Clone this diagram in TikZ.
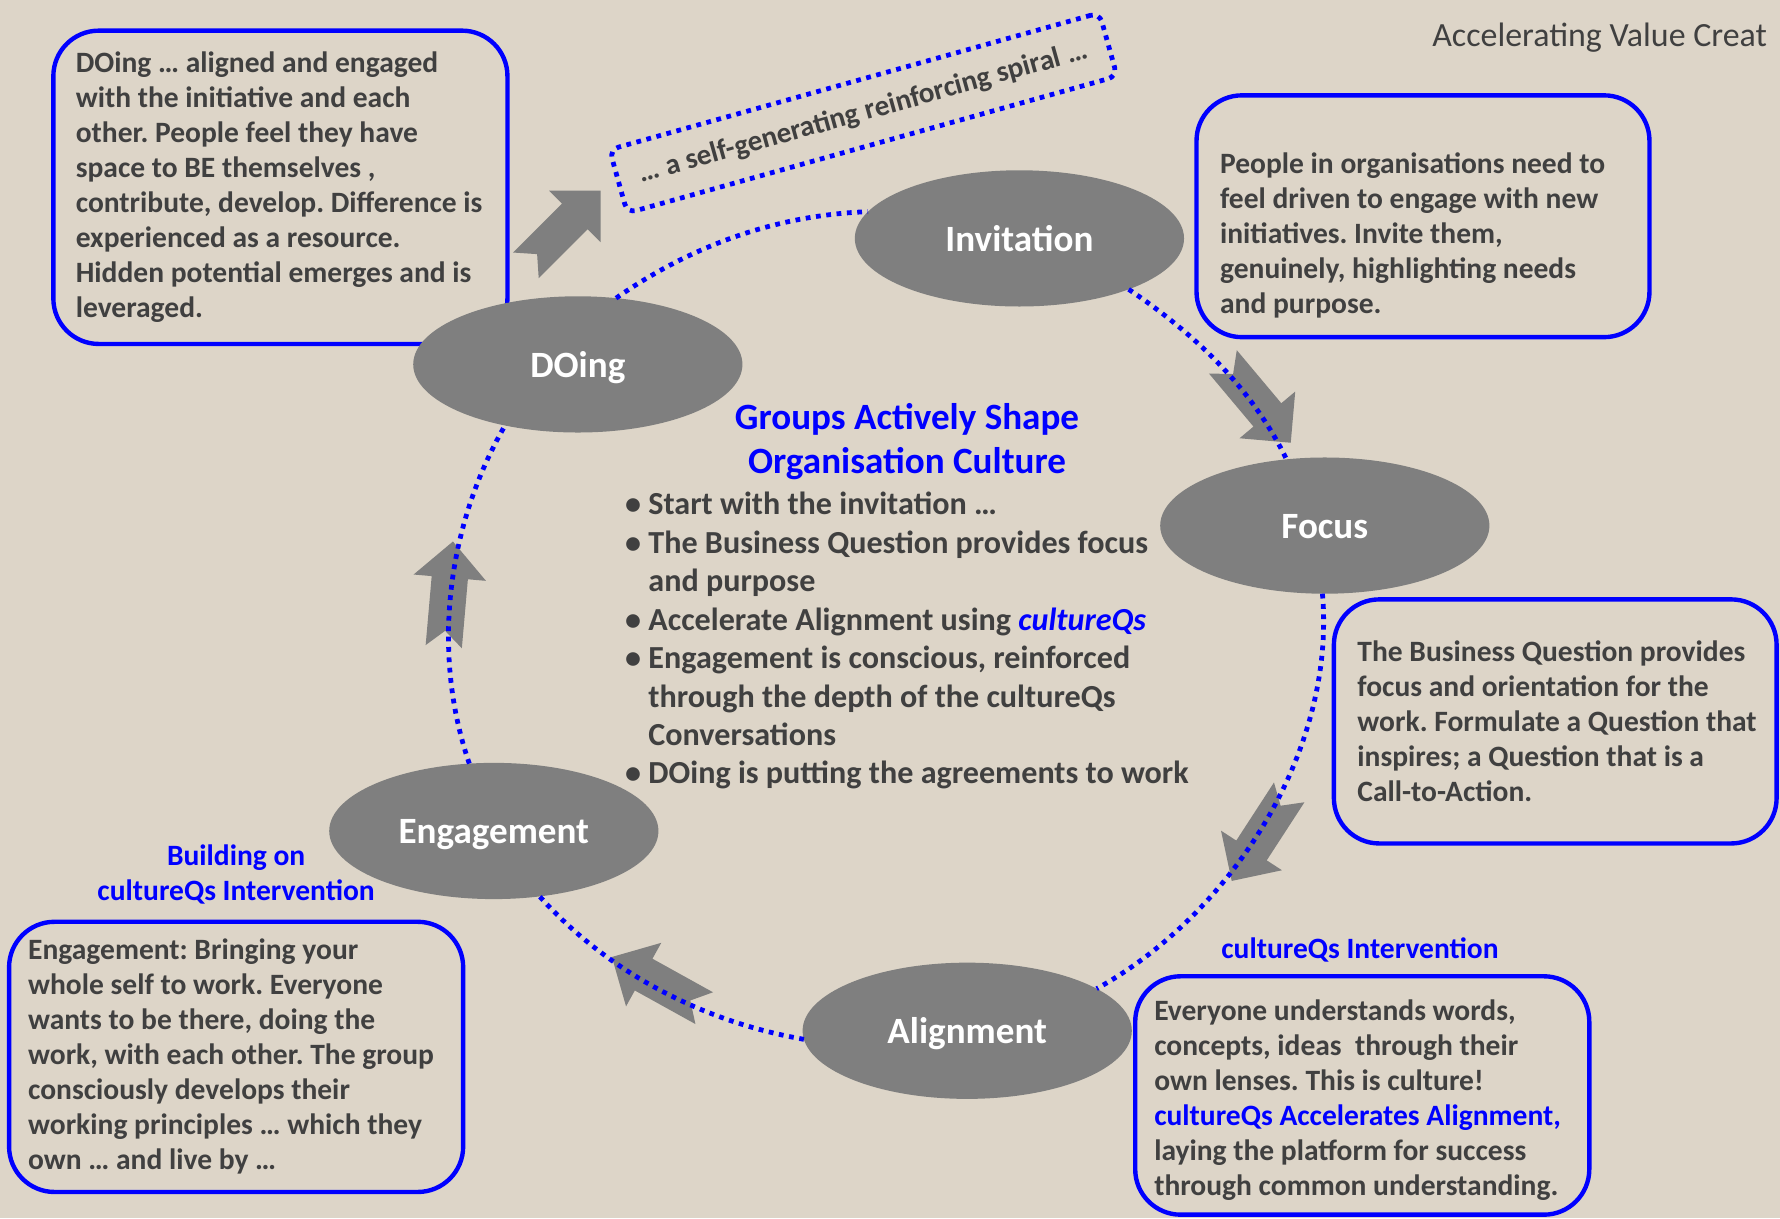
\documentclass[tikz,border=0pt]{standalone}
\usepackage{fontspec}
\setmainfont{Carlito}
\usepackage{xcolor}
\usepackage{tikz}
\usetikzlibrary{calc,shapes,positioning}
\frenchspacing

\definecolor{paper}{RGB}{221,213,200}
\definecolor{blobgray}{RGB}{127,127,127}
\definecolor{inkgray}{RGB}{64,64,64}
\definecolor{qblue}{RGB}{0,0,255}

\tikzset{
  stage/.style={ellipse, fill=blobgray, minimum width=2.9cm, minimum height=1.2cm,
    inner sep=0pt, outer sep=0pt, text=white, text height=0.75em, text depth=0.11em,
    font=\fontsize{9.3}{11}\selectfont\bfseries},
  infobox/.style={draw=qblue, line width=1.1pt, rounded corners=0.4cm, inner sep=0pt},
  boxtext/.style={inner sep=0pt, align=left, text=inkgray, font=\fontsize{7.4}{8.8}\selectfont\bfseries},
  bluelabel/.style={inner sep=0pt, align=center, text=qblue, font=\fontsize{7.4}{8.8}\selectfont\bfseries},
  dotline/.style={draw=qblue, line width=1.2pt, dash pattern=on 1.2pt off 1.4pt},
  ring/.style={dotline, looseness=0.88},
  blockarrow/.style={fill=blobgray}
}

\begin{document}
\begin{tikzpicture}

  \fill[paper] (0,0) rectangle (15.68,10.73);
  \useasboundingbox (0,0) rectangle (15.68,10.73);

  \node[anchor=base west, inner sep=0pt, text=inkgray, font=\fontsize{8.5}{10}\selectfont] (pagetitle) at (12.61,10.32) {Accelerating Value Creat};

  \node[infobox, minimum width=4cm, minimum height=2.76cm] (doingbox) at (2.47,9.08) {};
  \node[boxtext, below right=0.195cm and 0.21cm of doingbox.north west] (doingtext)
    {DOing … aligned and engaged\\ with the initiative and each\\ other. People feel they have\\ space to BE themselves ,\\
     contribute, develop. Difference is\\ experienced as a resource.\\ Hidden potential emerges and is\\ leveraged.};

  \node[infobox, minimum width=3.99cm, minimum height=2.13cm] (invitebox) at (12.535,8.825) {};
  \node[boxtext, below right=0.515cm and 0.22cm of invitebox.north west] (invitetext)
    {People in organisations need to\\ feel driven to engage with new\\ initiatives. Invite them,\\ genuinely, highlighting needs\\ and purpose.};

  \node[infobox, minimum width=3.9cm, minimum height=2.15cm] (focusbox) at (13.70,4.375) {};
  \node[boxtext, below right=0.375cm and 0.22cm of focusbox.north west] (focustext)
    {The Business Question provides\\ focus and orientation for the\\ work. Formulate a Question that\\ inspires; a Question that is a\\ Call-to-Action.};

  \node[infobox, minimum width=4cm, minimum height=2.10cm] (alignbox) at (12.00,1.08) {};
  \node[boxtext, below right=0.215cm and 0.18cm of alignbox.north west] (aligntext)
    {Everyone understands words,\\ concepts, ideas\ \ through their\\ own lenses. This is culture!\\
     \textcolor{qblue}{cultureQs Accelerates Alignment,}\\ laying the platform for success\\ through common understanding.};

  \node[infobox, minimum width=4cm, minimum height=2.38cm] (engagebox) at (2.08,1.42) {};
  \node[boxtext, below right=0.16cm and 0.18cm of engagebox.north west] (engagetext)
    {Engagement: Bringing your\\ whole self to work. Everyone\\ wants to be there, doing the\\ work, with each other. The group\\
     consciously develops their\\ working principles … which they\\ own … and live by …};

  \node[bluelabel] (buildlabel) at (2.08,3.025) {Building on\\ cultureQs Intervention};
  \node[bluelabel] (alignlabel) at (11.98,2.36) {cultureQs Intervention};

  \node[dotline, rounded corners=0.08cm, rotate=15.6, minimum width=4.48cm, minimum height=0.58cm, inner sep=0pt,
    text=inkgray, font=\fontsize{7.3}{8.8}\selectfont\bfseries] (spiral) at (7.605,9.735) {… a self-generating reinforcing spiral …};

  \foreach \x/\y/\a in {5.29/9.05/45, 11.37/6.83/-50, 10.85/2.97/-123, 5.39/2.30/151, 3.99/5.96/85}
    \fill[blockarrow, shift={(\x,\y)}, rotate=\a] (0,0) -- (-0.32,0.32) -- (-0.32,0.16) -- (-0.93,0.16)
      -- (-0.79,0) -- (-0.93,-0.16) -- (-0.32,-0.16) -- (-0.32,-0.32) -- cycle;

  \node[stage] (invitation) at (8.98,8.63) {Invitation};
  \node[stage] (doing) at (5.09,7.52) {DOing};
  \node[stage] (focus) at (11.67,6.10) {Focus};
  \node[stage] (engagement) at (4.35,3.41) {Engagement};
  \node[stage] (alignment) at (8.52,1.65) {Alignment};

  \draw[ring] (doing.60) to[out=35,in=182] (invitation.170);
  \draw[ring] (invitation.-25) to[out=-34,in=116] (focus.120);
  \draw[ring] (focus.-92) to[out=-85,in=29] (alignment.18);
  \draw[ring] (alignment.183) to[out=170,in=-48] (engagement.-55);
  \draw[ring] (engagement.110) to[out=109,in=-120] (doing.-140);

  \node[bluelabel, font=\fontsize{9.3}{11.2}\selectfont\bfseries] (heading) at (7.99,6.84) {Groups Actively Shape\\ Organisation Culture};
  \node[boxtext, font=\fontsize{8.05}{9.63}\selectfont\bfseries, anchor=north west] (points) at (5.50,6.40)
    {\textbullet\ Start with the invitation …\\
     \textbullet\ The Business Question provides focus\\ \hphantom{\textbullet\ }and purpose\\
     \textbullet\ Accelerate Alignment using \textcolor{qblue}{\itshape cultureQs}\\
     \textbullet\ Engagement is conscious, reinforced\\ \hphantom{\textbullet\ }through the depth of the cultureQs\\ \hphantom{\textbullet\ }Conversations\\
     \textbullet\ DOing is putting the agreements to work};

\end{tikzpicture}
\end{document}
